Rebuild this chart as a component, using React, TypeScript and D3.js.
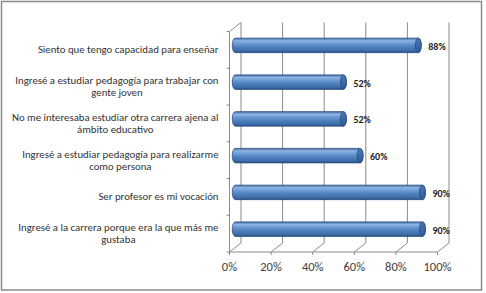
import React from "react";
import * as d3 from "d3";

const categories: string[] = [
  "Siento que tengo capacidad para enseñar",
  "Ingresé a estudiar pedagogía para trabajar con gente joven",
  "No me interesaba estudiar otra carrera ajena al ámbito educativo",
  "Ingresé a estudiar pedagogía para realizarme como persona",
  "Ser profesor es mi vocación",
  "Ingresé a la carrera porque era la que más me gustaba",
];
const labelLines: string[][] = [
  ["Siento que tengo capacidad para enseñar"],
  ["Ingresé a estudiar pedagogía para trabajar con", "gente joven"],
  ["No me interesaba estudiar otra carrera ajena al", "ámbito educativo"],
  ["Ingresé a estudiar pedagogía para realizarme", "como persona"],
  ["Ser profesor es mi vocación"],
  ["Ingresé a la carrera porque era la que más me", "gustaba"],
];
const values: number[] = [0.88, 0.52, 0.52, 0.6, 0.9, 0.9];
const valueLabels: string[] = ["88%", "52%", "52%", "60%", "90%", "90%"];
const ticks: number[] = [0, 0.2, 0.4, 0.6, 0.8, 1];
const tickLabels: string[] = ["0%", "20%", "40%", "60%", "80%", "100%"];

const W = 486;
const H = 293;
const DX = 11.5;
const DY = -9;
const FONT = "Carlito, Calibri, Lato, 'Open Sans', sans-serif";
const CAT_SIZE = 10.8;

let ctx: CanvasRenderingContext2D | null = null;
function measure(s: string): number {
  if (typeof document === "undefined") return s.length * 4.6;
  if (!ctx) ctx = document.createElement("canvas").getContext("2d");
  if (!ctx) return s.length * 4.6;
  ctx.font = `${CAT_SIZE}px ${FONT}`;
  return ctx.measureText(s).width;
}

export default function App() {
  const x = d3.scaleLinear().domain([0, 1]).range([229.5, 437.5]);
  const y = d3.scaleBand<string>().domain(categories).range([31.5, 252]).paddingInner(0).paddingOuter(0);
  const bw = y.bandwidth();
  const yTop = 31.5;
  const yFloor = 252;
  const barH = 14.5;
  const rx = 3;
  const labelRight = 218.5;

  return (
    <svg width={W} height={H} style={{ position: "absolute", left: 0, top: 0 }}>
      <defs>
        <linearGradient id="cyl" x1="0" y1="0" x2="0" y2="1">
          <stop offset="0" stopColor="#3d6aa6" />
          <stop offset="0.18" stopColor="#8fb4e3" />
          <stop offset="0.38" stopColor="#6b98d3" />
          <stop offset="0.6" stopColor="#4f81bd" />
          <stop offset="0.85" stopColor="#3f6eab" />
          <stop offset="1" stopColor="#2b5287" />
        </linearGradient>
        <linearGradient id="cap" x1="0" y1="0" x2="0" y2="1">
          <stop offset="0" stopColor="#4a78b5" />
          <stop offset="1" stopColor="#2e5a94" />
        </linearGradient>
      </defs>
      <rect x={0} y={0} width={W} height={H} fill="#fff" />
      <rect x={1.5} y={1.5} width={480} height={288.5} fill="#fff" stroke="#8c8c8c" strokeWidth={1.5} />

      {/* back wall gridlines */}
      {ticks.map((t, i) => (
        <line key={"g" + i} x1={x(t) + DX} x2={x(t) + DX} y1={yTop + DY} y2={yFloor + DY} stroke="#8a8a8a" strokeWidth={1} />
      ))}
      {/* floor diagonals */}
      {ticks.map((t, i) => (
        <line key={"f" + i} x1={x(t)} x2={x(t) + DX} y1={yFloor} y2={yFloor + DY} stroke="#8a8a8a" strokeWidth={1} />
      ))}
      {/* left wall top diagonal */}
      <line x1={x(0)} x2={x(0) + DX} y1={yTop} y2={yTop + DY} stroke="#8a8a8a" strokeWidth={1} />
      {/* front vertical axis */}
      <line x1={x(0)} x2={x(0)} y1={yTop} y2={yFloor} stroke="#8a8a8a" strokeWidth={1} />
      {categories.map((c, i) => (
        <line key={"lt" + i} x1={x(0) - 3} x2={x(0)} y1={(y(c) as number)} y2={(y(c) as number)} stroke="#8a8a8a" strokeWidth={1} />
      ))}
      <line x1={x(0) - 3} x2={x(0)} y1={yFloor} y2={yFloor} stroke="#8a8a8a" strokeWidth={1} />
      {/* front floor axis */}
      <line x1={x(0)} x2={x(1)} y1={yFloor} y2={yFloor} stroke="#8a8a8a" strokeWidth={1} />
      {ticks.map((t, i) => (
        <line key={"bt" + i} x1={x(t)} x2={x(t)} y1={yFloor} y2={yFloor + 3} stroke="#8a8a8a" strokeWidth={1} />
      ))}

      {/* bars */}
      {categories.map((c, i) => {
        const cy = (y(c) as number) + bw / 2 + DY / 2;
        const x0 = x(0) + DX / 2;
        const x1 = x(values[i]) + DX / 2;
        const t = cy - barH / 2;
        const b = cy + barH / 2;
        const r = barH / 2;
        const d = `M${x0},${t} L${x1},${t} A${rx},${r} 0 0 1 ${x1},${b} L${x0},${b} A${rx},${r} 0 0 1 ${x0},${t} Z`;
        return (
          <g key={"b" + i}>
            <path d={d} fill="url(#cyl)" stroke="#2a4e80" strokeWidth={0.8} />
            <ellipse cx={x1} cy={cy} rx={rx} ry={r} fill="url(#cap)" stroke="#2a4e80" strokeWidth={0.8} />
            <text x={x1 + rx + 7} y={cy + 2} dominantBaseline="middle" fontFamily={FONT} fontWeight="bold" fontSize={10} fill="#222">
              {valueLabels[i]}
            </text>
          </g>
        );
      })}

      {/* category labels */}
      {categories.map((c, i) => {
        const cyF = (y(c) as number) + bw / 2 + 1;
        const lines = labelLines[i];
        const lh = 12.3;
        const start = cyF - ((lines.length - 1) * lh) / 2;
        const maxW = Math.max(...lines.map(measure));
        const cx = labelRight - maxW / 2;
        return (
          <text key={"c" + i} fontFamily={FONT} fontSize={CAT_SIZE} fill="#333" textAnchor="middle">
            {lines.map((ln, j) => (
              <tspan key={j} x={cx} y={start + j * lh} dominantBaseline="middle">{ln}</tspan>
            ))}
          </text>
        );
      })}

      {/* tick labels */}
      {ticks.map((t, i) => (
        <text key={"tl" + i} x={x(t)} y={268} dominantBaseline="middle" textAnchor="middle" fontFamily={FONT} fontSize={12.5} fill="#404040">
          {tickLabels[i]}
        </text>
      ))}
    </svg>
  );
}
